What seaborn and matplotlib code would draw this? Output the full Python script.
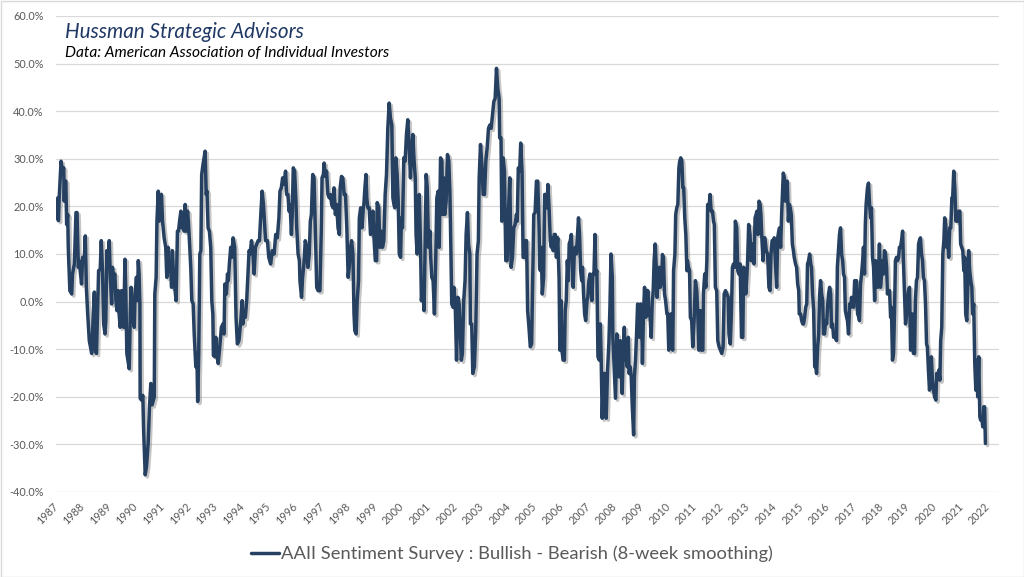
import numpy as np
import pandas as pd
import seaborn as sns
import matplotlib.pyplot as plt
import matplotlib.patheffects as pe
from matplotlib.patches import Rectangle

sns.set_theme(style="white")
plt.rcParams['font.family'] = ['Lato', 'DejaVu Sans']

# AAII bull - bear spread (8-week smoothing), in %
yr_87_92 = [1987.05, 1987.07, 1987.09, 1987.12, 1987.19, 1987.25, 1987.29, 1987.31, 1987.33, 1987.37,
            1987.40, 1987.44, 1987.46, 1987.52, 1987.59, 1987.62, 1987.69, 1987.75, 1987.79, 1987.84,
            1987.87, 1987.91, 1987.96, 1988.00, 1988.06, 1988.10, 1988.14, 1988.19, 1988.25, 1988.34,
            1988.40, 1988.44, 1988.47, 1988.52, 1988.56, 1988.60, 1988.66, 1988.70, 1988.75, 1988.79,
            1988.84, 1988.87, 1988.91, 1988.96, 1989.00, 1989.04, 1989.09, 1989.12, 1989.16, 1989.21,
            1989.25, 1989.29, 1989.34, 1989.37, 1989.41, 1989.46, 1989.50, 1989.54, 1989.59, 1989.62,
            1989.66, 1989.75, 1989.79, 1989.82, 1989.87, 1989.94, 1989.97, 1990.02, 1990.06, 1990.09,
            1990.12, 1990.15, 1990.16, 1990.21, 1990.26, 1990.29, 1990.35, 1990.40, 1990.46, 1990.51,
            1990.56, 1990.61, 1990.69, 1990.71, 1990.76, 1990.79, 1990.84, 1990.87, 1990.91, 1990.96,
            1991.00, 1991.06, 1991.12, 1991.16, 1991.21, 1991.25, 1991.29, 1991.34, 1991.37, 1991.41,
            1991.46, 1991.51, 1991.56, 1991.60, 1991.64, 1991.69, 1991.72, 1991.76, 1991.81, 1991.85,
            1991.89, 1991.94, 1991.97, 1992.01, 1992.06, 1992.10, 1992.15, 1992.19, 1992.25, 1992.29,
            1992.32, 1992.36, 1992.40, 1992.44, 1992.47, 1992.52, 1992.56, 1992.60, 1992.64, 1992.67,
            1992.71, 1992.76, 1992.81, 1992.85, 1992.89, 1992.91]
bb_87_92 = [17.5, 21.8, 17.0, 21.8, 29.5, 27.4, 28.1, 21.1, 25.3, 25.3,
            16.2, 18.3, 11.4, 2.3, 1.6, 5.8, 7.9, 18.7, 18.7, 7.2,
            8.6, 6.5, 3.7, 9.3, 8.6, 13.8, 3.0, -2.6, -8.2, -10.9,
            -2.6, 2.0, -10.2, -10.9, -2.6, 6.5, 6.8, 12.8, 5.8, -4.7,
            -6.8, -4.0, 10.7, 7.2, 12.8, 5.1, -0.5, 7.2, 5.1, 5.8,
            0.2, -1.9, 2.3, -2.6, -5.4, 2.3, 0.2, -5.4, 8.9, 2.3,
            -10.9, -14.1, -2.6, 3.0, -2.6, -5.4, 1.6, 5.1, 0.2, 8.6,
            5.8, -0.5, -20.3, -20.7, -19.7, -27.0, -36.4, -34.6, -29.8, -22.1,
            -17.2, -21.7, -20.0, 1.6, 5.1, 16.9, 23.2, 16.9, 20.4, 22.5,
            16.9, 13.4, 11.4, 5.1, 11.4, 6.5, 8.6, 3.0, 10.7, 5.8,
            3.0, 0.2, 14.8, 14.8, 16.9, 19.0, 15.5, 18.3, 14.8, 20.4,
            14.8, 19.0, 16.9, 12.8, 7.2, 0.2, -0.5, -6.8, -13.7, -10.9,
            -21.0, -10.9, 10.0, 10.7, 26.7, 28.8, 30.2, 31.6, 22.5, 23.2,
            15.5, 14.8, 11.4, 0.2, -2.6, -11.3]

yr_93_98 = [1992.96, 1993.00, 1993.04, 1993.09, 1993.15, 1993.21, 1993.27, 1993.31, 1993.34, 1993.40,
            1993.44, 1993.47, 1993.51, 1993.56, 1993.60, 1993.65, 1993.71, 1993.76, 1993.81, 1993.87,
            1993.94, 1993.99, 1994.02, 1994.06, 1994.11, 1994.16, 1994.21, 1994.25, 1994.29, 1994.34,
            1994.39, 1994.44, 1994.49, 1994.54, 1994.59, 1994.64, 1994.69, 1994.74, 1994.79, 1994.84,
            1994.87, 1994.94, 1994.99, 1995.06, 1995.12, 1995.19, 1995.25, 1995.31, 1995.37, 1995.41,
            1995.46, 1995.51, 1995.56, 1995.62, 1995.66, 1995.71, 1995.75, 1995.79, 1995.84, 1995.87,
            1995.91, 1995.96, 1996.01, 1996.04, 1996.09, 1996.14, 1996.16, 1996.22, 1996.26, 1996.31,
            1996.36, 1996.41, 1996.46, 1996.51, 1996.55, 1996.59, 1996.64, 1996.69, 1996.74, 1996.79,
            1996.84, 1996.91, 1996.96, 1996.99, 1997.04, 1997.07, 1997.11, 1997.16, 1997.21, 1997.26,
            1997.31, 1997.35, 1997.40, 1997.44, 1997.49, 1997.54, 1997.59, 1997.64, 1997.67, 1997.72,
            1997.77, 1997.82, 1997.87, 1997.92, 1997.97, 1998.01, 1998.06, 1998.10, 1998.15, 1998.19,
            1998.22, 1998.27, 1998.31, 1998.36, 1998.39, 1998.44, 1998.49, 1998.54, 1998.56, 1998.60,
            1998.64, 1998.67, 1998.71, 1998.76, 1998.81, 1998.86, 1998.90, 1998.94, 1998.99, 1999.04,
            1999.06, 1999.12, 1999.16]
bb_93_98 = [-11.6, -7.5, -10.9, -13.0, -9.5, -5.4, -4.7, -6.8, 3.7, 1.6,
            5.8, 4.4, 7.9, 11.4, 9.3, 13.4, 11.4, -3.3, -8.9, -8.2,
            -4.0, 0.2, -4.7, -2.6, -3.3, 0.2, 5.8, 10.7, 10.0, 12.8,
            10.7, 5.8, 11.4, 12.1, 12.8, 12.8, 18.3, 23.2, 20.4, 15.5,
            12.8, 12.8, 9.3, 7.9, 10.7, 10.0, 14.1, 13.4, 17.6, 23.2,
            23.9, 26.0, 24.6, 27.4, 22.5, 22.5, 19.0, 20.4, 14.1, 18.3,
            28.1, 27.4, 21.1, 15.5, 10.0, 8.6, 4.4, 0.9, 5.1, 7.9,
            12.8, 11.4, 7.2, 10.0, 16.9, 18.3, 26.7, 26.0, 14.1, 3.0,
            2.3, 2.3, 14.8, 26.0, 26.7, 29.1, 26.3, 27.4, 22.5, 21.8,
            22.5, 20.4, 19.7, 23.9, 18.3, 20.4, 15.5, 14.1, 23.9, 26.3,
            26.0, 22.5, 22.5, 15.5, 5.1, 7.2, 11.4, 12.8, 10.0, -2.6,
            -6.1, -6.8, 0.2, 4.4, 17.6, 19.7, 15.5, 19.7, 20.4, 23.9,
            26.7, 21.8, 19.7, 19.7, 14.1, 16.9, 19.0, 13.4, 8.6, 8.6,
            20.8, 19.7, 11.4]

yr_99_04 = [1999.21, 1999.26, 1999.31, 1999.36, 1999.41, 1999.46, 1999.51, 1999.56, 1999.61, 1999.65,
            1999.69, 1999.72, 1999.76, 1999.81, 1999.85, 1999.89, 1999.94, 1999.97, 2000.01, 2000.06,
            2000.11, 2000.16, 2000.21, 2000.26, 2000.31, 2000.35, 2000.40, 2000.44, 2000.49, 2000.52,
            2000.56, 2000.60, 2000.64, 2000.69, 2000.72, 2000.77, 2000.82, 2000.86, 2000.90, 2000.94,
            2000.99, 2001.04, 2001.07, 2001.11, 2001.16, 2001.21, 2001.26, 2001.30, 2001.35, 2001.39,
            2001.44, 2001.49, 2001.52, 2001.56, 2001.60, 2001.65, 2001.70, 2001.75, 2001.79, 2001.81,
            2001.86, 2001.91, 2001.94, 2001.99, 2002.04, 2002.09, 2002.14, 2002.19, 2002.22, 2002.26,
            2002.31, 2002.36, 2002.40, 2002.45, 2002.49, 2002.54, 2002.56, 2002.61, 2002.65, 2002.71,
            2002.76, 2002.81, 2002.86, 2002.89, 2002.94, 2002.99, 2003.04, 2003.09, 2003.14, 2003.19,
            2003.24, 2003.29, 2003.34, 2003.39, 2003.44, 2003.49, 2003.54, 2003.59, 2003.64, 2003.66,
            2003.71, 2003.74, 2003.79, 2003.84, 2003.89, 2003.94, 2003.99, 2004.04, 2004.09, 2004.14,
            2004.19, 2004.24, 2004.29, 2004.32, 2004.36, 2004.41, 2004.45, 2004.50, 2004.54, 2004.59,
            2004.62, 2004.67, 2004.71, 2004.76, 2004.81, 2004.86, 2004.91, 2004.94, 2004.99, 2005.04,
            2005.09, 2005.14, 2005.16]
bb_99_04 = [14.8, 11.4, 12.8, 22.5, 26.7, 36.4, 41.7, 38.5, 37.1, 21.8,
            20.4, 19.7, 30.2, 26.7, 21.1, 10.0, 9.3, 17.6, 15.5, 30.2,
            29.5, 35.1, 38.2, 33.0, 26.0, 30.9, 35.1, 30.2, 26.0, 14.1,
            10.0, 12.8, 22.5, 11.4, 0.2, 3.0, -1.9, 11.4, 26.7, 23.9,
            11.4, 14.8, 9.3, 5.1, 4.4, -2.6, 9.3, 21.8, 23.2, 11.4,
            30.2, 29.5, 18.3, 26.0, 18.3, 21.1, 30.9, 29.5, 23.2, 16.9,
            -0.5, -1.2, 3.0, -0.5, -12.3, 0.9, -0.5, -8.2, -12.3, -10.9,
            0.2, 4.4, 14.1, 18.7, 12.1, 10.0, -4.7, -4.7, -15.1, -13.7,
            -6.1, 10.0, 12.8, 26.0, 33.0, 28.8, 22.5, 22.5, 29.5, 32.3,
            36.4, 37.1, 36.4, 39.2, 42.0, 42.7, 49.0, 44.8, 42.7, 34.4,
            34.4, 16.9, 30.2, 27.4, 8.6, 8.6, 19.0, 26.0, 7.2, 9.3,
            15.5, 16.2, 18.3, 16.9, 28.1, 27.4, 33.3, 27.4, 9.3, 9.3,
            12.8, 12.8, -1.9, -5.4, -9.5, -8.9, 8.6, 18.3, 18.7, 25.3,
            25.3, 15.5, 7.2]

yr_05_10 = [2005.19, 2005.22, 2005.26, 2005.31, 2005.35, 2005.40, 2005.44, 2005.47, 2005.52, 2005.56,
            2005.60, 2005.64, 2005.67, 2005.71, 2005.75, 2005.79, 2005.84, 2005.89, 2005.92, 2005.96,
            2006.00, 2006.04, 2006.09, 2006.12, 2006.16, 2006.20, 2006.24, 2006.27, 2006.31, 2006.35,
            2006.39, 2006.42, 2006.46, 2006.50, 2006.54, 2006.57, 2006.62, 2006.66, 2006.70, 2006.74,
            2006.77, 2006.81, 2006.85, 2006.89, 2006.94, 2006.97, 2007.01, 2007.05, 2007.09, 2007.12,
            2007.16, 2007.20, 2007.24, 2007.27, 2007.31, 2007.35, 2007.40, 2007.44, 2007.47, 2007.51,
            2007.56, 2007.61, 2007.66, 2007.71, 2007.76, 2007.80, 2007.84, 2007.89, 2007.91, 2007.96,
            2008.01, 2008.06, 2008.10, 2008.14, 2008.19, 2008.22, 2008.26, 2008.30, 2008.34, 2008.37,
            2008.41, 2008.45, 2008.49, 2008.52, 2008.56, 2008.60, 2008.64, 2008.69, 2008.72, 2008.76,
            2008.80, 2008.84, 2008.87, 2008.91, 2008.95, 2008.99, 2009.02, 2009.06, 2009.10, 2009.15,
            2009.19, 2009.22, 2009.26, 2009.31, 2009.35, 2009.39, 2009.42, 2009.46, 2009.50, 2009.54,
            2009.57, 2009.61, 2009.65, 2009.69, 2009.74, 2009.77, 2009.81, 2009.85, 2009.89, 2009.94,
            2009.97, 2010.01, 2010.05, 2010.09, 2010.12, 2010.16, 2010.19, 2010.24, 2010.27, 2010.31,
            2010.35, 2010.39, 2010.42, 2010.46, 2010.50, 2010.54, 2010.57, 2010.61, 2010.65, 2010.69,
            2010.71, 2010.75, 2010.79, 2010.82, 2010.87, 2010.91, 2010.96, 2011.01, 2011.06, 2011.10,
            2011.14, 2011.17]
bb_05_10 = [6.5, 11.4, 1.6, 5.1, 22.5, 22.5, 19.7, 24.6, 19.0, 12.8,
            11.4, 13.4, 10.7, 14.1, 14.1, 9.3, 13.4, 5.1, -10.2, 0.2,
            -10.2, -12.3, -12.3, -1.9, 0.2, 8.6, 4.4, 12.1, 12.8, 14.1,
            8.6, 3.0, 10.0, 11.4, 10.0, 12.8, 17.6, 14.1, 6.5, 4.4,
            7.2, 1.6, -2.6, -4.0, 0.2, 0.9, 4.4, 5.8, 5.1, 0.2,
            5.8, 5.8, 14.1, 5.8, 6.5, -11.6, -12.3, -4.7, -11.6, -24.5,
            -15.1, -15.1, -24.5, -14.4, -8.9, -1.2, 10.0, 5.1, -7.5, -13.7,
            -20.3, -6.8, -10.2, -15.8, -8.2, -13.7, -19.3, -10.9, -5.4, -12.3,
            -8.9, -13.7, -7.5, -15.1, -13.7, -15.8, -22.1, -28.0, -15.8, -12.3,
            -6.8, -0.5, -1.2, -7.5, -0.5, -3.3, -13.0, -2.6, 3.0, -3.3,
            -1.9, 2.3, -2.6, -3.3, -7.5, 0.2, 1.6, 8.6, 12.1, 7.2,
            0.9, 5.1, 7.2, 3.0, 4.4, 9.9, 9.3, 1.6, 0.2, -2.6,
            -2.6, -10.2, -4.7, -2.6, -9.5, -10.2, 6.5, 10.0, 18.3, 19.7,
            20.4, 28.1, 29.5, 30.2, 29.5, 23.9, 23.9, 17.6, 14.1, 6.5,
            8.6, 7.2, 6.5, -3.3, -4.0, -9.5, -4.0, 4.4, 2.3, -2.6,
            -10.2, -2.6]

yr_11_16 = [2011.19, 2011.24, 2011.29, 2011.31, 2011.36, 2011.40, 2011.44, 2011.47, 2011.52, 2011.56,
            2011.60, 2011.65, 2011.69, 2011.72, 2011.76, 2011.81, 2011.85, 2011.90, 2011.95, 2012.00,
            2012.05, 2012.09, 2012.14, 2012.19, 2012.24, 2012.27, 2012.32, 2012.36, 2012.40, 2012.44,
            2012.49, 2012.51, 2012.56, 2012.60, 2012.64, 2012.69, 2012.74, 2012.79, 2012.82, 2012.86,
            2012.90, 2012.94, 2012.97, 2013.01, 2013.06, 2013.10, 2013.14, 2013.17, 2013.21, 2013.25,
            2013.29, 2013.32, 2013.36, 2013.40, 2013.44, 2013.47, 2013.51, 2013.55, 2013.59, 2013.62,
            2013.67, 2013.72, 2013.77, 2013.81, 2013.85, 2013.89, 2013.94, 2013.97, 2014.01, 2014.06,
            2014.10, 2014.14, 2014.17, 2014.21, 2014.25, 2014.29, 2014.31, 2014.35, 2014.39, 2014.42,
            2014.46, 2014.50, 2014.54, 2014.57, 2014.61, 2014.65, 2014.69, 2014.72, 2014.77, 2014.81,
            2014.85, 2014.89, 2014.91, 2014.96, 2015.00, 2015.04, 2015.07, 2015.11, 2015.15, 2015.19,
            2015.22, 2015.26, 2015.30, 2015.34, 2015.37, 2015.41, 2015.45, 2015.49, 2015.52, 2015.56,
            2015.60, 2015.64, 2015.67, 2015.71, 2015.75, 2015.79, 2015.82, 2015.86, 2015.90, 2015.94,
            2015.97, 2016.01, 2016.05, 2016.09, 2016.12, 2016.16, 2016.20, 2016.24, 2016.27, 2016.31,
            2016.34, 2016.39, 2016.42, 2016.46, 2016.50, 2016.54, 2016.57, 2016.61, 2016.64, 2016.69,
            2016.72, 2016.76, 2016.80, 2016.84, 2016.87, 2016.91, 2016.95, 2016.99, 2017.02, 2017.06,
            2017.10, 2017.15]
bb_11_16 = [-1.9, -10.2, -10.2, 1.6, 5.8, 3.0, 8.6, 20.4, 19.7, 22.5,
            19.0, 19.0, 16.9, 16.2, 3.0, 2.3, -8.2, -9.5, -10.2, -10.9,
            -9.5, 1.6, 2.3, 1.6, 0.9, -6.8, -8.9, -2.6, 7.2, 7.9,
            7.2, 16.9, 15.5, 6.5, 5.8, 7.9, -7.5, -7.5, 7.2, 5.8,
            1.6, 5.1, 8.6, 16.2, 14.1, 8.6, 8.6, 12.1, 7.9, 17.6,
            18.3, 19.0, 14.1, 21.1, 20.4, 18.3, 12.8, 8.6, 13.4, 13.4,
            10.7, 10.0, 3.0, 2.3, 10.0, 12.8, 12.8, 13.4, 8.6, 3.0,
            13.4, 14.8, 15.5, 11.4, 18.7, 24.6, 27.0, 26.0, 21.1, 23.9,
            25.3, 16.9, 20.4, 19.7, 18.3, 12.1, 10.7, 9.3, 7.9, 7.2,
            3.7, 2.3, -2.6, -2.6, -4.0, -4.7, -4.7, -3.3, -1.2, -0.5,
            7.9, 8.6, 10.0, 7.9, 7.2, 1.6, -1.9, -13.7, -13.0, -15.1,
            -9.5, -6.8, 0.9, 4.4, 1.6, 0.2, -6.8, -6.8, -4.0, -4.7,
            -1.2, 1.6, 3.0, 1.6, -5.4, -4.7, -7.5, -6.8, -7.5, -8.2,
            7.2, 11.4, 14.1, 15.5, 9.9, 8.6, 5.8, 5.1, -1.9, -3.3,
            -4.0, -6.8, -0.5, -1.2, 0.9, -0.5, -1.2, 4.4, 3.7, 4.4,
            -2.6, -3.3]

yr_17_21 = [2017.17, 2017.21, 2017.25, 2017.29, 2017.32, 2017.36, 2017.39, 2017.42, 2017.47, 2017.51,
            2017.55, 2017.59, 2017.62, 2017.66, 2017.70, 2017.74, 2017.77, 2017.81, 2017.85, 2017.89,
            2017.92, 2017.96, 2018.00, 2018.04, 2018.07, 2018.11, 2018.15, 2018.19, 2018.22, 2018.26,
            2018.30, 2018.34, 2018.37, 2018.41, 2018.45, 2018.49, 2018.52, 2018.56, 2018.60, 2018.64,
            2018.67, 2018.71, 2018.75, 2018.79, 2018.82, 2018.86, 2018.90, 2018.94, 2018.97, 2019.01,
            2019.05, 2019.09, 2019.12, 2019.16, 2019.20, 2019.24, 2019.27, 2019.31, 2019.35, 2019.39,
            2019.42, 2019.46, 2019.50, 2019.54, 2019.57, 2019.61, 2019.65, 2019.69, 2019.72, 2019.76,
            2019.80, 2019.84, 2019.87, 2019.91, 2019.95, 2019.99, 2020.04, 2020.07, 2020.11, 2020.15,
            2020.19, 2020.22, 2020.26, 2020.30, 2020.34, 2020.37, 2020.41, 2020.45, 2020.49, 2020.52,
            2020.56, 2020.60, 2020.64, 2020.67, 2020.71, 2020.75, 2020.79, 2020.82, 2020.86, 2020.90,
            2020.94, 2020.97, 2021.01, 2021.05, 2021.09, 2021.12, 2021.16, 2021.20, 2021.24, 2021.27,
            2021.31, 2021.35, 2021.39, 2021.42, 2021.46, 2021.50, 2021.54, 2021.57, 2021.61, 2021.65,
            2021.69, 2021.72, 2021.76, 2021.80, 2021.84, 2021.87, 2021.90]
bb_17_21 = [-4.0, 3.7, 5.8, 8.6, 11.4, 5.8, 16.2, 20.4, 23.9, 24.9,
            20.4, 17.6, 19.7, 9.3, 7.2, 0.2, 8.6, 7.2, 3.0, 7.2,
            12.1, 3.0, 5.8, 8.6, 5.8, 10.7, 10.0, 7.2, 1.6, 2.3,
            2.3, -3.3, -1.2, -12.3, -10.9, -1.2, 8.6, 9.3, 8.6, 9.3,
            11.4, 11.4, 12.8, 14.8, 8.6, 1.6, -4.7, -2.6, 0.2, 2.3,
            3.0, -10.2, -9.5, -2.6, -10.9, -10.9, 0.2, 4.4, 5.1, 12.1,
            12.8, 13.4, 10.0, 8.6, 5.1, 4.4, -0.5, -8.9, -9.5, -14.4,
            -18.6, -16.5, -11.6, -16.5, -18.6, -20.0, -20.7, -15.1, -15.8, -14.4,
            -16.5, -8.2, -5.4, 10.0, 12.8, 17.6, 16.2, 11.4, 13.4, 9.3,
            15.5, 15.5, 21.8, 21.8, 27.4, 23.9, 16.9, 17.6, 16.9, 19.0,
            19.0, 12.1, 11.4, 10.7, 6.5, 9.3, -2.6, -4.0, 3.7, 10.7,
            6.5, 4.4, 3.0, -2.6, -0.5, -13.0, -18.6, -12.3, -20.0, -11.6,
            -24.2, -24.9, -24.2, -26.3, -22.1, -22.1, -29.8]

year_ticks = list(range(1987, 2023))
y_ticks = [60, 50, 40, 30, 20, 10, 0, -10, -20, -30, -40]

title = "Hussman Strategic Advisors"
subtitle = "Data: American Association of Individual Investors"
series_name = "AAII Sentiment Survey : Bullish - Bearish (8-week smoothing)"

df = pd.DataFrame({
    "year": yr_87_92 + yr_93_98 + yr_99_04 + yr_05_10 + yr_11_16 + yr_17_21,
    "spread": bb_87_92 + bb_93_98 + bb_99_04 + bb_05_10 + bb_11_16 + bb_17_21,
})

navy = "#254061"
grey_txt = "#595959"

fig = plt.figure(figsize=(10.24, 5.77), dpi=100)
ax = fig.add_axes([56 / 1024, 1 - 492 / 577, (999 - 56) / 1024, (492 - 16) / 577])

sns.lineplot(data=df, x="year", y="spread", ax=ax, color=navy, linewidth=2.5,
             estimator=None, sort=False, label=series_name,
             path_effects=[pe.SimpleLineShadow(offset=(1.5, -1.5), shadow_color="#7f7f7f", alpha=0.45),
                           pe.Normal()])

ax.set_xlim(1987.04, 2022.41)
ax.set_ylim(-40, 60)
ax.set_yticks(y_ticks)
ax.set_yticklabels([f"{v:.1f}%" for v in y_ticks])
ax.set_xticks(year_ticks)
ax.set_xticklabels([str(y) for y in year_ticks], rotation=45, ha="right",
                   rotation_mode="anchor", va="center")
ax.tick_params(axis="both", length=0, colors=grey_txt, labelsize=7.8)
ax.tick_params(axis="y", pad=9)
ax.tick_params(axis="x", pad=9)
ax.set_xlabel("")
ax.set_ylabel("")
ax.grid(axis="y", color="#d9d9d9", linewidth=0.9)
ax.set_axisbelow(True)
for s in ax.spines.values():
    s.set_visible(False)

fig.text(65 / 1024, 1 - 37.5 / 577, title, fontsize=14.9, style="italic",
         color="#1f3864", va="baseline", ha="left")
fig.text(65 / 1024, 1 - 56.7 / 577, subtitle, fontsize=11.2, style="italic",
         color="black", va="baseline", ha="left")

leg = ax.legend(loc="center", bbox_to_anchor=(0.5, 1 - 554 / 577),
                bbox_transform=fig.transFigure, frameon=False, fontsize=13.2,
                handlelength=1.5, handletextpad=0.1, labelcolor=grey_txt)
for h in leg.get_lines():
    h.set_path_effects([])
    h.set_linewidth(2.5)

fig.patches.append(Rectangle((0.5 / 1024, 0.5 / 577), 1 - 1 / 1024, 1 - 1 / 577,
                             transform=fig.transFigure, fill=False,
                             edgecolor="#d9d9d9", linewidth=1))

fig.savefig("out.png", dpi=100)
